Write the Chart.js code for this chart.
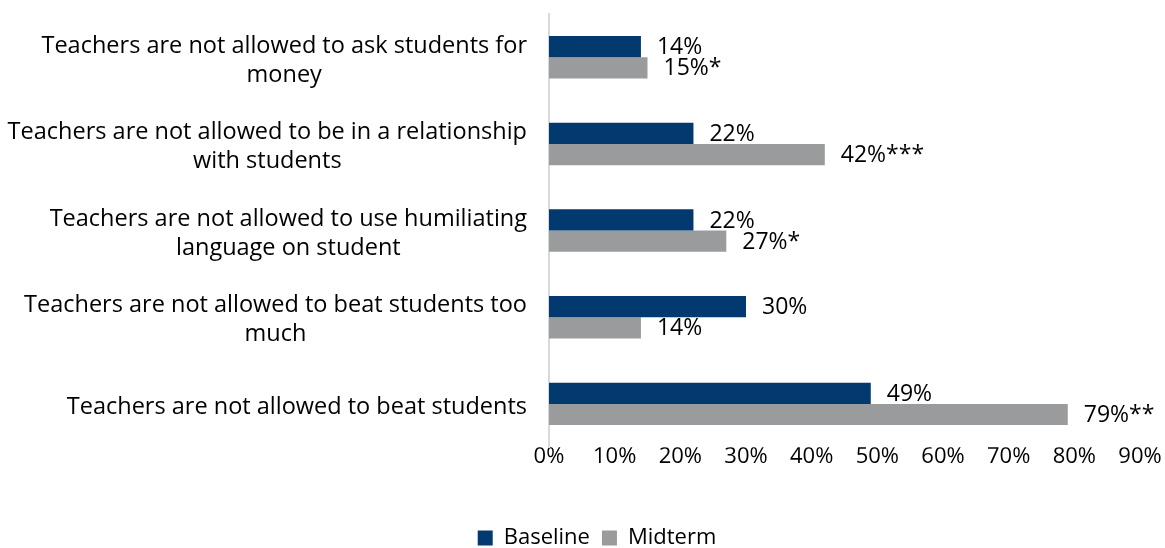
<!DOCTYPE html>
<html>
<head>
<meta charset="utf-8">
<script src="https://cdn.jsdelivr.net/npm/chart.js@4"></script>
<style>
  html, body { margin: 0; padding: 0; background: #fff; }
  #wrap { width: 1165px; height: 548px; }
</style>
</head>
<body>
<div id="wrap"><canvas id="chart"></canvas></div>
<script>
const categories = [
  ['Teachers are not allowed to ask students for', 'money'],
  ['Teachers are not allowed to be in a relationship', 'with students'],
  ['Teachers are not allowed to use humiliating', 'language on student'],
  ['Teachers are not allowed to beat students too', 'much'],
  ['Teachers are not allowed to beat students']
]
const baseline = [14, 22, 22, 30, 49]
const midterm = [15, 42, 27, 14, 79]
const baselineLabels = ['14%', '22%', '22%', '30%', '49%']
const midtermLabels = ['15%*', '42%***', '27%*', '14%', '79%**']

const FONT = '"Open Sans", sans-serif'

// category labels: lines centred on each other, block right-aligned to the axis
const catLabels = {
  id: 'catLabels',
  afterDraw(chart) {
    const ctx = chart.ctx
    const y = chart.scales.y
    const right = chart.chartArea.left - 22
    ctx.save()
    ctx.font = '23.5px ' + FONT
    ctx.fillStyle = '#000'
    ctx.textAlign = 'center'
    ctx.textBaseline = 'middle'
    categories.forEach((lines, i) => {
      const w = Math.max(...lines.map(l => ctx.measureText(l).width))
      const cx = right - w / 2
      const cy = y.getPixelForValue(i) + 3
      const lh = 29
      lines.forEach((l, j) => {
        ctx.fillText(l, cx, cy + (j - (lines.length - 1) / 2) * lh)
      })
    })
    ctx.restore()
  }
}

// value labels at the end of each bar
const valueLabels = {
  id: 'valueLabels',
  afterDatasetsDraw(chart) {
    const ctx = chart.ctx
    ctx.save()
    ctx.font = '23px ' + FONT
    ctx.fillStyle = '#000'
    ctx.textAlign = 'left'
    ctx.textBaseline = 'middle'
    const texts = [baselineLabels, midtermLabels]
    chart.data.datasets.forEach((ds, d) => {
      chart.getDatasetMeta(d).data.forEach((bar, i) => {
        ctx.fillText(texts[d][i], bar.x + 16, bar.y + 1)
      })
    })
    ctx.restore()
  }
}

new Chart(document.getElementById('chart'), {
  type: 'bar',
  data: {
    labels: categories.map(c => c.join(' ')),
    datasets: [{
      label: 'Baseline',
      data: baseline,
      backgroundColor: '#023a70',
      categoryPercentage: 0.49,
      barPercentage: 1
    }, {
      label: 'Midterm',
      data: midterm,
      backgroundColor: '#9a9b9d',
      categoryPercentage: 0.49,
      barPercentage: 1
    }]
  },
  options: {
    indexAxis: 'y',
    responsive: true,
    maintainAspectRatio: false,
    animation: false,
    layout: { padding: { left: 54, right: 25, top: 14, bottom: -11 } },
    scales: {
      x: {
        min: 0,
        max: 90,
        grid: { display: false, drawTicks: false },
        border: { display: false },
        ticks: {
          stepSize: 10,
          padding: 0,
          color: '#000',
          font: { family: FONT, size: 22, lineHeight: 0.9 },
          callback: v => v + '%'
        },
        afterFit: s => { s.height += 48 }
      },
      y: {
        grid: { display: false },
        border: { color: '#d9d9d9', width: 2 },
        ticks: { display: false },
        afterFit: s => { s.width = 495 }
      }
    },
    plugins: {
      legend: {
        position: 'bottom',
        labels: {
          boxWidth: 15,
          boxHeight: 15,
          padding: 12,
          color: '#000',
          font: { family: FONT, size: 22 }
        }
      },
      tooltip: { enabled: false }
    }
  },
  plugins: [catLabels, valueLabels]
})
</script>
</body>
</html>
